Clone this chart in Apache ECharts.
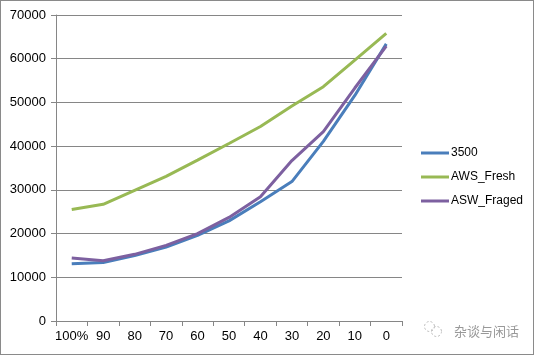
<!DOCTYPE html>
<html>
<head>
<meta charset="utf-8">
<script src="https://cdn.jsdelivr.net/npm/echarts@6/dist/echarts.min.js"></script>
<style>
  html, body { margin: 0; padding: 0; background: #fff; }
  #chart { width: 534px; height: 355px; box-sizing: border-box; border: 1px solid #8a8a8a; }
</style>
</head>
<body>
<div id="chart"></div>
<script>
// 카테고리 / 시리즈 값
const categories = ['100%', '90', '80', '70', '60', '50', '40', '30', '20', '10', '0'];
const s3500 = [13100, 13400, 14950, 16900, 19600, 22900, 27300, 31900, 41100, 51600, 63400];
const awsFresh = [25500, 26700, 29900, 33100, 36800, 40600, 44500, 49200, 53600, 59700, 65800];
const aswFraged = [14400, 13800, 15250, 17300, 20000, 23700, 28400, 36700, 43300, 53300, 62900];
const seriesNames = ['3500', 'AWS_Fresh', 'ASW_Fraged'];
const colors = ['#4a7ebb', '#98b954', '#7d60a0'];

const chart = echarts.init(document.getElementById('chart'));
const font = 'Liberation Sans';

chart.setOption({
    animation: false,
    color: colors,
    textStyle: { fontFamily: font },
    grid: { left: 55, right: 131, top: 14, bottom: 33, containLabel: false },
    legend: {
        orient: 'vertical',
        left: 420, top: 146, padding: 0,
        itemWidth: 28, itemHeight: 3, itemGap: 12,
        icon: 'rect',
        textStyle: { fontSize: 12, color: '#000', fontFamily: font, padding: [0, 0, 0, -3] },
        data: seriesNames
    },
    xAxis: {
        type: 'category',
        data: categories,
        boundaryGap: true,
        axisLine: { lineStyle: { color: '#868686' } },
        axisTick: { show: true, length: 5, lineStyle: { color: '#868686' } },
        axisLabel: { color: '#000', fontSize: 13, margin: 9, interval: 0, fontFamily: font }
    },
    yAxis: {
        type: 'value',
        min: 0, max: 70000, interval: 10000,
        axisLine: { show: true, lineStyle: { color: '#868686' } },
        axisTick: { show: true, length: 5, lineStyle: { color: '#868686' } },
        axisLabel: { color: '#000', fontSize: 13, margin: 10, fontFamily: font, formatter: v => String(v) },
        splitLine: { lineStyle: { color: '#868686' } }
    },
    series: [
        { name: seriesNames[0], type: 'line', data: s3500, symbol: 'none', lineStyle: { width: 3 } },
        { name: seriesNames[1], type: 'line', data: awsFresh, symbol: 'none', lineStyle: { width: 3 } },
        { name: seriesNames[2], type: 'line', data: aswFraged, symbol: 'none', lineStyle: { width: 3 } }
    ],
    graphic: [
        { type: 'circle', left: 421, top: 318, shape: { r: 5 }, style: { fill: 'none', stroke: '#bbb', lineWidth: 1, lineDash: [2, 2] } },
        { type: 'circle', left: 428, top: 323, shape: { r: 5 }, style: { fill: 'none', stroke: '#bbb', lineWidth: 1, lineDash: [2, 2] } },
        { type: 'text', left: 453, top: 324, style: { text: '杂谈与闲话', fill: '#999', fontSize: 13, fontFamily: 'Noto Sans CJK SC' } }
    ]
});
</script>
</body>
</html>
